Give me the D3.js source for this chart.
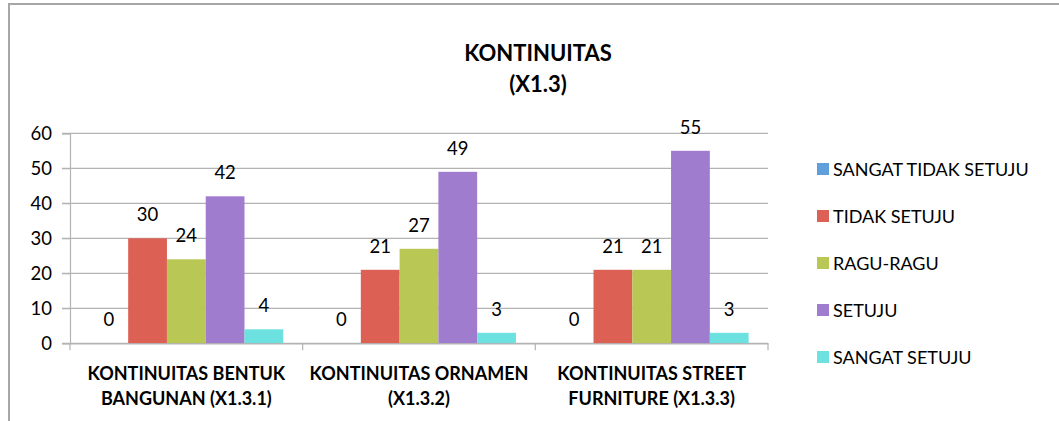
<!DOCTYPE html>
<html><head><meta charset="utf-8">
<script src="https://cdn.jsdelivr.net/npm/d3@7"></script>
<style>body{margin:0;background:#fff;} svg{display:block;}</style>
</head><body>
<svg id="chart" width="1059" height="421"></svg>
<script>
const title = ["KONTINUITAS", "(X1.3)"];
const categories = [
  ["KONTINUITAS BENTUK", "BANGUNAN (X1.3.1)"],
  ["KONTINUITAS ORNAMEN", "(X1.3.2)"],
  ["KONTINUITAS STREET", "FURNITURE (X1.3.3)"]
];
const seriesNames = ["SANGAT TIDAK SETUJU", "TIDAK SETUJU", "RAGU-RAGU", "SETUJU", "SANGAT SETUJU"];
const seriesColors = ["#5f9fdc", "#dd6055", "#b9c755", "#a07ccf", "#6de0e0"];
const sangatTidakSetuju = [0, 0, 0];
const tidakSetuju = [30, 21, 21];
const raguRagu = [24, 27, 21];
const setuju = [42, 49, 55];
const sangatSetuju = [4, 3, 3];
const yTicks = [0, 10, 20, 30, 40, 50, 60];

const seriesValues = [sangatTidakSetuju, tidakSetuju, raguRagu, setuju, sangatSetuju];
const font = "Lato, 'Open Sans', sans-serif";
const svg = d3.select("#chart");

// frame
svg.append("path").attr("d", "M9,421 V4 H1059").attr("fill", "none").attr("stroke", "#a6a6a6").attr("stroke-width", 2);

const pLeft = 70, pRight = 768, pTop = 133.3, pBottom = 343.3;
const x0 = d3.scaleBand().domain(d3.range(categories.length)).range([pLeft, pRight]).paddingInner(0).paddingOuter(0);
const x1 = d3.scaleBand().domain(d3.range(seriesNames.length)).range([0, x0.bandwidth()]).paddingOuter(0.5).paddingInner(0);
const y = d3.scaleLinear().domain([0, 60]).range([pBottom, pTop]);

// gridlines
svg.append("g").selectAll("line").data(yTicks).join("line")
  .attr("x1", pLeft - 8).attr("x2", pRight).attr("y1", d => y(d)).attr("y2", d => y(d))
  .attr("stroke", "#b3b3b3").attr("stroke-width", 1.2);

// y axis
const yAxis = svg.append("g").attr("transform", `translate(${pLeft},0)`)
  .call(d3.axisLeft(y).tickValues(yTicks).tickSize(8).tickPadding(10));
yAxis.select(".domain").attr("stroke", "#b3b3b3").attr("stroke-width", 1.2);
yAxis.selectAll(".tick line").attr("stroke", "#b3b3b3");
yAxis.selectAll("text").attr("font-family", font).attr("font-size", 18.5).attr("fill", "#000");

// bars
const groups = svg.append("g").selectAll("g").data(categories).join("g")
  .attr("transform", (d, i) => `translate(${x0(i)},0)`);
groups.each(function(c, ci) {
  const g = d3.select(this);
  seriesValues.forEach((vals, si) => {
    g.append("rect").attr("x", x1(si)).attr("width", x1.bandwidth())
      .attr("y", y(vals[ci])).attr("height", pBottom - y(vals[ci]))
      .attr("fill", seriesColors[si]);
    g.append("text").attr("x", x1(si) + x1.bandwidth() / 2).attr("y", y(vals[ci]) - 17)
      .attr("text-anchor", "middle").attr("font-family", font).attr("font-size", 18.5)
      .attr("fill", "#000").text(vals[ci]);
  });
});

// x axis
const xAxis = svg.append("g").attr("transform", `translate(0,${pBottom})`)
  .call(d3.axisBottom(x0).tickValues([]).tickSize(0));
xAxis.select(".domain").attr("stroke", "#b3b3b3").attr("stroke-width", 1.2);
const bounds = [pLeft].concat(categories.map((c, i) => x0(i) + x0.bandwidth()));
xAxis.selectAll("line.sep").data(bounds).join("line").attr("class", "sep")
  .attr("x1", d => d).attr("x2", d => d).attr("y1", 0).attr("y2", 7)
  .attr("stroke", "#b3b3b3").attr("stroke-width", 1.2);

// category labels
categories.forEach((lines, i) => {
  const cx = x0(i) + x0.bandwidth() / 2;
  lines.forEach((ln, li) => {
    svg.append("text").attr("x", cx).attr("y", 380 + li * 25).attr("text-anchor", "middle")
      .attr("font-family", font).attr("font-size", 18).attr("font-weight", "bold").attr("fill", "#000").text(ln);
  });
});

// title
title.forEach((t, i) => {
  svg.append("text").attr("x", 538).attr("y", 61 + i * 31).attr("text-anchor", "middle")
    .attr("font-family", font).attr("font-size", 22).attr("font-weight", "bold").attr("fill", "#000").text(t);
});

// legend
const leg = svg.append("g").selectAll("g").data(seriesNames).join("g")
  .attr("transform", (d, i) => `translate(817,${169 + i * 47})`);
leg.append("rect").attr("x", 0).attr("y", -6).attr("width", 12).attr("height", 12)
  .attr("fill", (d, i) => seriesColors[i]);
leg.append("text").attr("x", 16).attr("y", 7).attr("font-family", font).attr("font-size", 18)
  .attr("fill", "#000").text(d => d);
</script>
</body></html>
